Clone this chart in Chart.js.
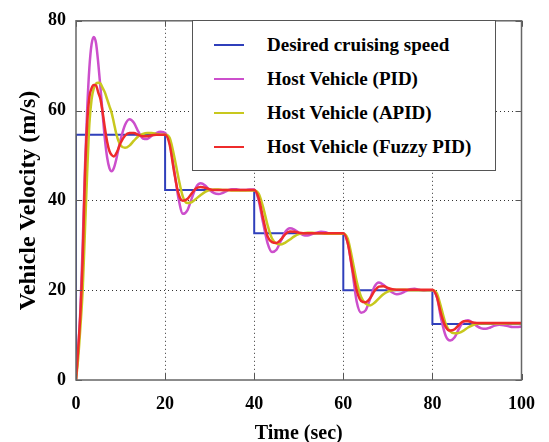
<!DOCTYPE html>
<html>
<head>
<meta charset="utf-8">
<script src="https://cdn.jsdelivr.net/npm/chart.js@4.4.1/dist/chart.umd.min.js"></script>
<style>
  html, body { margin: 0; padding: 0; background: #fff; }
  #wrap { position: relative; width: 549px; height: 442px; }
  #legend {
    position: absolute; left: 192px; top: 20px; width: 304px; height: 151px;
    border: 1px solid #555; background: #fff; box-sizing: border-box;
    font-family: "Liberation Serif", "Times New Roman", serif; font-weight: bold; font-size: 19px;
  }
  .row { position: absolute; left: 0; height: 24px; line-height: 24px; white-space: nowrap; }
  .row i { position: absolute; left: 21px; top: 11px; width: 30px; height: 2px; }
  .row span { position: absolute; left: 74px; top: 0; }
</style>
</head>
<body>
<div id="wrap">
  <canvas id="c" width="549" height="442"></canvas>
  <div id="legend"></div>
</div>
<script>
// time axis (sec)
const time = [0,0.5,1,1.5,2,2.5,3,3.5,4,4.5,5,5.5,6,6.5,7,7.5,8,8.5,9,9.5,10,
  11,12,13,14,15,16,17,18,19,20,
  21,22,23,24,25,26,27,28,29,30,
  31,32,33,34,35,36,37,38,39,40,
  41,42,43,44,45,46,47,48,49,50,
  51,52,53,54,55,56,57,58,59,60,
  61,62,63,64,65,66,67,68,69,70,
  71,72,73,74,75,76,77,78,79,80,
  81,82,83,84,85,86,87,88,89,90,
  91,92,93,94,95,96,97,98,99,100];

// desired cruising speed (step changes)
const stepTime  = [0, 0, 20, 40, 60, 80, 100];
const stepSpeed = [0, 54.6, 42.3, 32.7, 20, 12.5, 12.5];

const pid = [0,7,16,30,47,60,69.5,74.8,76.4,75,70.5,65,59,53.5,49.5,47.2,46.5,47.2,49,51.3,53.5,
  56.8,58.1,57.3,55.3,53.8,53.7,54.4,55,55.3,55,
  53,47,40.5,37,37.8,40.5,43,43.8,43.3,42.3,
  41.6,41.4,41.7,42.2,42.5,42.5,42.3,42.3,42.4,42.4,
  40,35,30.5,28.5,29,31,33,33.8,33.5,32.8,
  32.3,32.2,32.5,32.8,33,32.9,32.6,32.6,32.7,32.7,
  30.5,24.5,17.5,15,15.5,18,20.8,21.7,21.2,20.3,
  19.5,19.1,19.3,19.8,20.2,20.3,20.1,19.9,20,20,
  18.5,13.5,9.8,8.8,9.5,11.5,13,13.3,12.8,12,
  11.5,11.4,11.7,12.1,12.3,12.2,12,11.8,11.8,11.9];

const apid = [0,5,12,20,33,46,57,62.5,65,66,66.2,66,65,64,62.5,61,59.5,57.3,55,53.3,52.3,
  51.7,52.2,53.3,54.3,54.8,55,55,54.8,54.6,54.6,
  54,50,45,40.8,39.4,39.6,40.4,41.2,41.9,42.3,
  42.4,42.4,42.3,42.3,42.2,42.2,42.2,42.2,42.2,42.2,
  41.5,38.5,34.5,31.5,30.4,30.2,30.6,31.3,32,32.5,
  32.7,32.8,32.8,32.7,32.7,32.6,32.6,32.6,32.6,32.6,
  31.5,27,22,18.5,17,16.6,17.2,18.2,19.1,19.7,
  20,20.1,20.1,20.1,20,20,20,20,20,20,
  19.3,16,12.5,10.8,10.4,10.5,11,11.7,12.2,12.5,
  12.6,12.6,12.6,12.6,12.6,12.6,12.6,12.6,12.6,12.6];

const fuzzy = [0,7,15,27,45,57,63,65,65.7,65.6,64,62.5,59.5,56,53,51,50.1,49.8,50.4,51.5,52.8,
  54.4,55,55,54.6,54.3,54.3,54.5,54.6,54.6,54.6,
  52.5,46.5,41.5,39.9,40.3,41.6,42.7,43,42.8,42.5,
  42.3,42.3,42.3,42.3,42.3,42.3,42.3,42.3,42.3,42.3,
  40.5,36,32,30.7,30.5,31.3,32.5,33.1,33,32.8,
  32.7,32.7,32.7,32.7,32.7,32.7,32.7,32.7,32.7,32.7,
  30.5,25,20,17.6,17.3,18.2,19.8,20.8,20.9,20.5,
  20.2,20.1,20.1,20.1,20.1,20.1,20.1,20.1,20.1,20.1,
  18.5,14.5,11.8,11,11.3,12.3,13.1,13.1,12.8,12.7,
  12.7,12.7,12.7,12.7,12.7,12.7,12.7,12.7,12.7,12.7];

const labels = ['Desired cruising speed', 'Host Vehicle (PID)', 'Host Vehicle (APID)', 'Host Vehicle (Fuzzy PID)'];
const colors = ['#2f3fbb', '#cc4fcc', '#c8c81e', '#ee2b2b'];

const pts = (xs, ys) => xs.map((t, i) => ({x: t, y: ys[i]}));
const serif = '"Liberation Serif", "Times New Roman", serif';

// legend box drawn as html inside the plot
const legendRows = [44, 78, 112, 146];
document.getElementById('legend').innerHTML = labels.map((l, i) =>
  `<div class="row" style="top:${legendRows[i] - 20 - 12}px"><i style="background:${colors[i]}"></i><span>${l}</span></div>`
).join('');

// dotted grid, inward ticks and box, matlab style
const frame = {
  id: 'frame',
  beforeDatasetsDraw(chart) {
    const {ctx, chartArea: a, scales: {x, y}} = chart;
    ctx.save();
    ctx.strokeStyle = '#333';
    ctx.lineWidth = 1;
    ctx.setLineDash([1, 3]);
    ctx.beginPath();
    x.ticks.forEach(t => {
      if (t.value === x.min || t.value === x.max) return;
      const p = Math.round(x.getPixelForValue(t.value)) + 0.5;
      ctx.moveTo(p, a.top); ctx.lineTo(p, a.bottom);
    });
    y.ticks.forEach(t => {
      if (t.value === y.min || t.value === y.max) return;
      const p = Math.round(y.getPixelForValue(t.value)) + 0.5;
      ctx.moveTo(a.left, p); ctx.lineTo(a.right, p);
    });
    ctx.stroke();
    ctx.restore();
  },
  afterDatasetsDraw(chart) {
    const {ctx, chartArea: a, scales: {x, y}} = chart;
    ctx.save();
    ctx.strokeStyle = '#555';
    ctx.lineWidth = 1;
    ctx.beginPath();
    x.ticks.forEach(t => {
      const p = Math.round(x.getPixelForValue(t.value)) + 0.5;
      ctx.moveTo(p, a.bottom); ctx.lineTo(p, a.bottom - 6);
      ctx.moveTo(p, a.top); ctx.lineTo(p, a.top + 6);
    });
    y.ticks.forEach(t => {
      const p = Math.round(y.getPixelForValue(t.value)) + 0.5;
      ctx.moveTo(a.left, p); ctx.lineTo(a.left + 6, p);
      ctx.moveTo(a.right, p); ctx.lineTo(a.right - 6, p);
    });
    ctx.stroke();
    ctx.strokeStyle = '#666';
    ctx.lineWidth = 1.5;
    ctx.strokeRect(a.left, a.top, a.width, a.height);
    ctx.restore();
  }
};

new Chart(document.getElementById('c'), {
  type: 'line',
  data: {
    datasets: [
      {label: labels[3], data: pts(time, fuzzy), borderColor: colors[3], borderWidth: 2.5, order: 0, cubicInterpolationMode: 'monotone'},
      {label: labels[2], data: pts(time, apid), borderColor: colors[2], borderWidth: 2.5, order: 1, cubicInterpolationMode: 'monotone'},
      {label: labels[1], data: pts(time, pid), borderColor: colors[1], borderWidth: 2.5, order: 2, cubicInterpolationMode: 'monotone'},
      {label: labels[0], data: pts(stepTime, stepSpeed), borderColor: colors[0], borderWidth: 2, order: 3, stepped: 'before'}
    ]
  },
  options: {
    responsive: false,
    animation: false,
    layout: {padding: {top: 17, right: 23, left: 0, bottom: 0}},
    elements: {point: {radius: 0}},
    plugins: {legend: {display: false}, tooltip: {enabled: false}},
    scales: {
      x: {
        type: 'linear', min: 0, max: 100,
        afterFit: s => { s.height = 62; },
        ticks: {stepSize: 20, color: '#000', padding: 14, font: {family: serif, size: 18, weight: 'bold'}},
        grid: {display: false, drawTicks: false},
        border: {display: false},
        title: {display: true, text: 'Time (sec)', color: '#000', padding: 0,
          font: {family: serif, size: 20, weight: 'bold', lineHeight: 0.8}}
      },
      y: {
        min: 0, max: 80,
        afterFit: s => { s.width = 76; },
        ticks: {stepSize: 20, color: '#000', padding: 10, font: {family: serif, size: 18, weight: 'bold'}},
        grid: {display: false, drawTicks: false},
        border: {display: false},
        title: {display: true, text: 'Vehicle Velocity (m/s)', color: '#000', padding: {top: 14, bottom: 0},
          font: {family: serif, size: 24, weight: 'bold'}}
      }
    }
  },
  plugins: [frame]
});
</script>
</body>
</html>
